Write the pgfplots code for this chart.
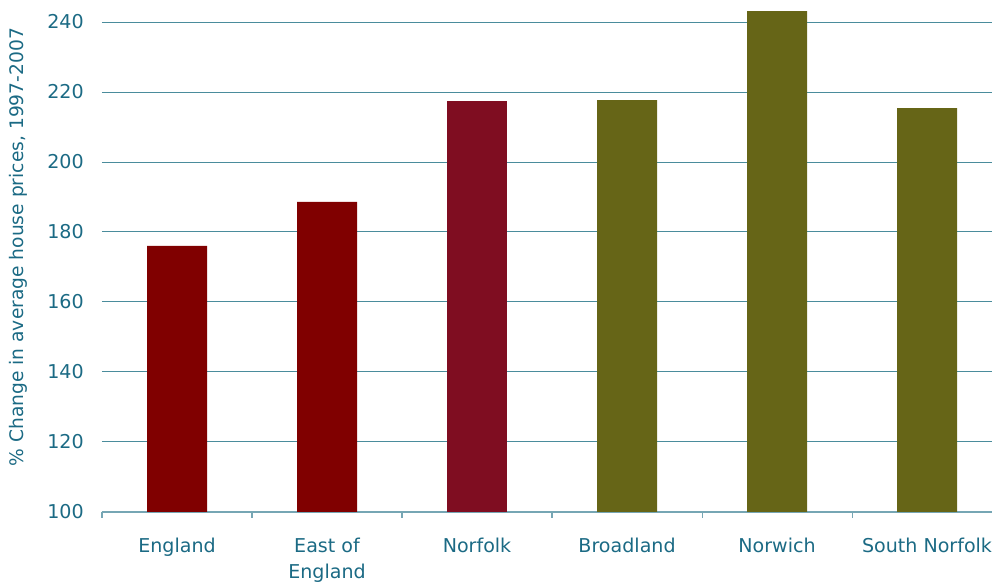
\documentclass[border=0pt]{standalone}
\usepackage{fontspec}
\setmainfont{DejaVu Sans}
\usepackage{pgfplots}
\pgfplotsset{compat=1.18}

\definecolor{darkred}{HTML}{800000}
\definecolor{norfolkred}{HTML}{7F0D21}
\definecolor{olivebar}{HTML}{666517}
\definecolor{txt}{HTML}{1B6A84}
\definecolor{gridc}{HTML}{4A8C9C}
\definecolor{axisc}{HTML}{76A6B4}

\begin{document}
\begin{tikzpicture}
\begin{axis}[
    name=ax,
    scale only axis,
    width=667.5pt, height=384pt,
    xmin=-0.5, xmax=5.433,
    ymin=100, ymax=246.29,
    ybar, bar width=45pt, bar shift=0pt,
    axis lines*=left,
    y axis line style={draw=none},
    x axis line style={axisc, line width=0.8pt},
    ytick={100,120,...,240},
    ymajorgrids,
    grid style={gridc, line width=0.75pt},
    major tick length=0pt,
    major y tick style={draw=none},
    xtick={0,...,5},
    xticklabels={England, East of\\England, Norfolk, Broadland, Norwich, South Norfolk},
    major x tick style={draw=none},
    minor xtick={-0.5,0.5,...,4.5},
    minor x tick style={axisc, line width=0.8pt},
    minor tick length=4.5pt,
    tick align=outside,
    /pgf/number format/assume math mode=true,
    tick label style={font=\fontsize{14.3}{19.5}\selectfont, text=txt},
    xticklabel style={align=center, inner sep=0pt, yshift=-19pt},
    yticklabel style={inner sep=0pt, xshift=-13.5pt},
    ylabel={\% Change in average house prices, 1997-2007},
    every axis y label/.style={at={(rel axis cs:0,0.517)}, rotate=90, anchor=center,
        yshift=63pt, font=\fontsize{14}{16}\selectfont, text=txt},
]
% England, East of England
\addplot[fill=darkred, draw=none] coordinates {(0,176.0) (1,188.6)};
% Norfolk
\addplot[fill=norfolkred, draw=none] coordinates {(2,217.4)};
% Broadland, Norwich, South Norfolk
\addplot[fill=olivebar, draw=none] coordinates {(3,217.7) (4,243.1) (5,215.4)};
\end{axis}
\pgfresetboundingbox
\path[use as bounding box] ([xshift=-76.5pt,yshift=-53.25pt]ax.south west) rectangle (ax.north east);
\end{tikzpicture}
\end{document}
